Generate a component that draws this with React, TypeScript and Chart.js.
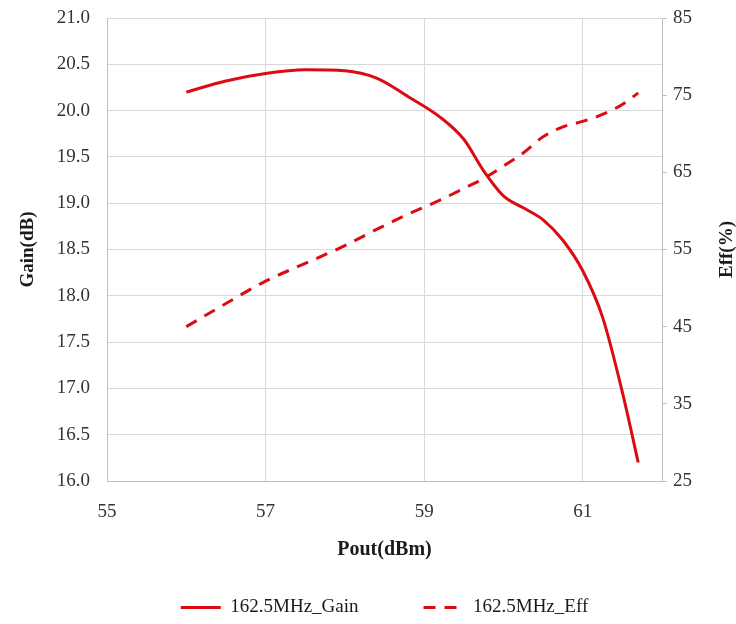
import React, { useEffect, useRef } from 'react';
import { Chart, registerables } from 'chart.js';

Chart.register(...registerables);

// ---- data ----
const pout = [56.0, 56.5, 57.0, 57.5, 58.0, 58.4, 58.8, 59.2, 59.5, 59.75, 60.0, 60.25, 60.5, 60.75, 61.0, 61.25, 61.5, 61.7];
const gainDb = [20.2, 20.32, 20.4, 20.44, 20.43, 20.35, 20.15, 19.93, 19.69, 19.35, 19.08, 18.95, 18.82, 18.6, 18.27, 17.77, 16.96, 16.2];
const effPct = [45.0, 48.0, 50.9, 53.2, 55.5, 57.6, 59.6, 61.4, 62.9, 64.2, 65.8, 67.5, 69.6, 70.9, 71.6, 72.5, 73.8, 75.3];

const xTicks = [55, 57, 59, 61];
const gainTicks = [16.0, 16.5, 17.0, 17.5, 18.0, 18.5, 19.0, 19.5, 20.0, 20.5, 21.0];
const effTicks = [25, 35, 45, 55, 65, 75, 85];

const gainLabel = '162.5MHz_Gain';
const effLabel = '162.5MHz_Eff';
const xTitle = 'Pout(dBm)';
const yTitle = 'Gain(dB)';
const y1Title = 'Eff(%)';

const RED = '#dc0a12';
const FONT = "'Liberation Serif', 'Times New Roman', serif";
const TICK_COLOR = '#333333';
const TITLE_COLOR = '#1a1a1a';
const GRID = '#d9d9d9';
const AXIS = '#bfbfbf';
const DASH = [12, 9];

const rightTitlePlugin = {
  id: 'rightTitle',
  afterDraw(chart: any) {
    const ctx = chart.ctx;
    ctx.save();
    ctx.translate(727, (chart.chartArea.top + chart.chartArea.bottom) / 2);
    ctx.rotate(-Math.PI / 2);
    ctx.font = `bold 19px ${FONT}`;
    ctx.fillStyle = TITLE_COLOR;
    ctx.textAlign = 'center';
    ctx.textBaseline = 'middle';
    ctx.fillText(y1Title, 0, 0);
    ctx.restore();
  },
};

export default function App() {
  const ref = useRef<HTMLCanvasElement>(null);

  useEffect(() => {
    document.body.style.margin = '0';
    const canvas = ref.current!;
    const chart = new Chart(canvas, {
      type: 'line',
      data: {
        datasets: [
          {
            label: gainLabel,
            data: pout.map((x, i) => ({ x, y: gainDb[i] })),
            yAxisID: 'y',
            borderColor: RED,
            backgroundColor: RED,
            borderWidth: 3,
            pointRadius: 0,
            cubicInterpolationMode: 'monotone',
            fill: false,
          },
          {
            label: effLabel,
            data: pout.map((x, i) => ({ x, y: effPct[i] })),
            yAxisID: 'y1',
            borderColor: RED,
            backgroundColor: RED,
            borderWidth: 3,
            borderDash: DASH,
            pointRadius: 0,
            cubicInterpolationMode: 'monotone',
            fill: false,
          },
        ],
      },
      options: {
        responsive: false,
        maintainAspectRatio: false,
        animation: false,
        layout: { padding: { top: 18, left: 0, right: 0, bottom: -3 } },
        plugins: {
          legend: {
            position: 'bottom',
            fullSize: false,
            labels: {
              usePointStyle: true,
              pointStyle: 'line',
              pointStyleWidth: 40,
              padding: 65,
              color: TITLE_COLOR,
              font: { family: FONT, size: 19 },
              generateLabels: (c: any) =>
                Chart.defaults.plugins.legend.labels.generateLabels(c).map((item: any, i: number) => ({
                  ...item,
                  lineDash: c.data.datasets[i].borderDash || [],
                  lineWidth: 3,
                  strokeStyle: RED,
                  fillStyle: RED,
                  pointStyle: 'line',
                })),
            },
          },
          tooltip: { enabled: false },
        },
        scales: {
          x: {
            type: 'linear',
            min: 55,
            max: 62,
            afterBuildTicks: (s: any) => {
              s.ticks = xTicks.map((v) => ({ value: v }));
            },
            afterFit: (s: any) => {
              s.height = 52;
            },
            grid: { color: GRID, drawTicks: false },
            border: { color: AXIS, width: 1 },
            ticks: { padding: 20, color: TICK_COLOR, font: { family: FONT, size: 19 }, maxRotation: 0 },
            title: {
              display: true,
              text: xTitle,
              color: TITLE_COLOR,
              font: { family: FONT, size: 20, weight: 'bold' },
              padding: { top: 0, bottom: -29 },
            },
          },
          y: {
            type: 'linear',
            position: 'left',
            min: 16,
            max: 21,
            afterBuildTicks: (s: any) => {
              s.ticks = gainTicks.map((v) => ({ value: v }));
            },
            afterFit: (s: any) => {
              s.width = 107;
            },
            grid: { color: GRID, drawTicks: true, tickLength: 12, tickColor: 'rgba(0,0,0,0)' },
            border: { color: AXIS, width: 1 },
            ticks: {
              padding: 5,
              color: TICK_COLOR,
              font: { family: FONT, size: 19 },
              callback: (v: any) => Number(v).toFixed(1),
            },
            title: {
              display: true,
              text: yTitle,
              color: TITLE_COLOR,
              font: { family: FONT, size: 19, weight: 'bold' },
              padding: { top: 17, bottom: 0 },
            },
          },
          y1: {
            type: 'linear',
            position: 'right',
            min: 25,
            max: 85,
            afterBuildTicks: (s: any) => {
              s.ticks = effTicks.map((v) => ({ value: v }));
            },
            afterFit: (s: any) => {
              s.width = 74;
            },
            grid: { drawOnChartArea: false, drawTicks: true, tickLength: 5, color: AXIS },
            border: { color: AXIS, width: 1 },
            ticks: { padding: 6, color: TICK_COLOR, font: { family: FONT, size: 19 } },
            title: { display: false },
          },
        },
      },
      plugins: [rightTitlePlugin],
    } as any);
    return () => chart.destroy();
  }, []);

  return <canvas ref={ref} width={736} height={624} style={{ display: 'block' }} />;
}
